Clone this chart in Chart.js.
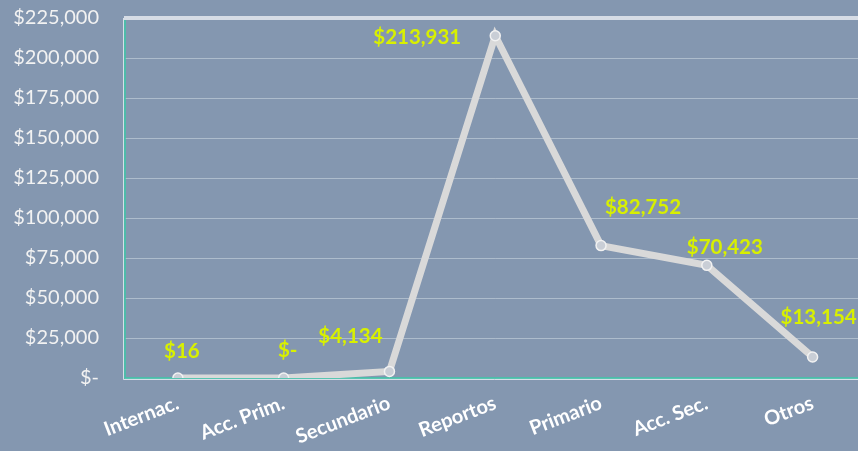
<!DOCTYPE html>
<html><head><meta charset="utf-8">
<script src="https://cdn.jsdelivr.net/npm/chart.js@4"></script>
<style>
html,body{margin:0;padding:0;background:#8497b0;overflow:hidden;}
#wrap{width:872px;height:451px;position:relative;}
</style></head>
<body><div id="wrap"><canvas id="c"></canvas></div>
<script>
const categories = ["Internac.", "Acc. Prim.", "Secundario", "Reportos", "Primario", "Acc. Sec.", "Otros"];
const values = [16, 0, 4134, 213931, 82752, 70423, 13154];
const valueLabels = ["$16", "$-", "$4,134", "$213,931", "$82,752", "$70,423", "$13,154"];
const yTicks = [0, 25000, 50000, 75000, 100000, 125000, 150000, 175000, 200000, 225000];

function money(v){ return v === 0 ? "$-" : "$" + v.toLocaleString("en-US"); }

const labelOffsets = [[4,-27],[4,-28],[-39,-35],[-78,2],[42,-38],[18,-18],[6,-40]];

const framePlugin = {
  id: 'frame',
  afterDraw(chart){
    const {ctx, chartArea:a} = chart;
    ctx.save();
    ctx.strokeStyle = '#d6dce5';
    ctx.lineWidth = 4;
    ctx.beginPath(); ctx.moveTo(a.left-1, a.top); ctx.lineTo(a.right+2, a.top); ctx.stroke();
    const meta = chart.getDatasetMeta(0);
    ctx.fillStyle = '#d8f000';
    ctx.font = 'bold 20.5px Lato';
    ctx.textAlign = 'center';
    ctx.textBaseline = 'middle';
    meta.data.forEach((pt, i) => {
      const o = labelOffsets[i];
      ctx.fillText(valueLabels[i], pt.x + o[0], pt.y + o[1]);
    });
    ctx.restore();
  },
  beforeDatasetsDraw(chart){
    const {ctx, chartArea:a} = chart;
    ctx.save();
    ctx.strokeStyle = 'rgba(235,240,245,0.8)';
    ctx.lineWidth = 1;
    ctx.beginPath();
    ctx.moveTo(a.left-1.5, a.top); ctx.lineTo(a.left-1.5, a.bottom+1.5); ctx.lineTo(a.right, a.bottom+1.5);
    ctx.stroke();
    ctx.strokeStyle = '#3cc7a8';
    ctx.lineWidth = 1.5;
    ctx.beginPath();
    ctx.moveTo(a.left, a.top); ctx.lineTo(a.left, a.bottom); ctx.lineTo(a.right, a.bottom);
    ctx.stroke();
    ctx.restore();
  }
};

new Chart(document.getElementById('c'), {
  type: 'line',
  data: {
    labels: categories,
    datasets: [{
      data: values,
      borderColor: '#d9d9d9',
      borderWidth: 7,
      tension: 0,
      pointRadius: 5,
      pointBackgroundColor: '#c9ced6',
      pointBorderColor: '#f2f2f2',
      pointBorderWidth: 1.5
    }]
  },
  options: {
    responsive: true,
    maintainAspectRatio: false,
    animation: false,
    layout: { padding: { top: 18, left: 0, right: 0, bottom: 0 } },
    plugins: { legend: { display: false }, tooltip: { enabled: false } },
    scales: {
      x: {
        offset: true,
        grid: { display: false, drawTicks: false },
        border: { display: false },
        ticks: {
          color: '#ffffff',
          font: { family: 'Lato', size: 20, weight: 'bold' },
          minRotation: 21, maxRotation: 21, padding: 13, autoSkip: false
        },
        afterFit(s){ s.height = 73; s.paddingLeft = 0; s.paddingRight = 0; }
      },
      y: {
        min: 0, max: 225000,
        afterBuildTicks(s){ s.ticks = yTicks.map(v => ({value: v})); },
        grid: { color: 'rgba(225,232,240,0.45)', lineWidth: 1, drawTicks: false },
        border: { display: false },
        ticks: {
          color: '#f2f2f2',
          font: { family: 'Lato', size: 20 },
          padding: 26,
          callback: v => money(v)
        },
        afterFit(s){ s.width = 125; s.paddingTop = 0; s.paddingBottom = 0; }
      }
    }
  },
  plugins: [framePlugin]
});
</script></body></html>
